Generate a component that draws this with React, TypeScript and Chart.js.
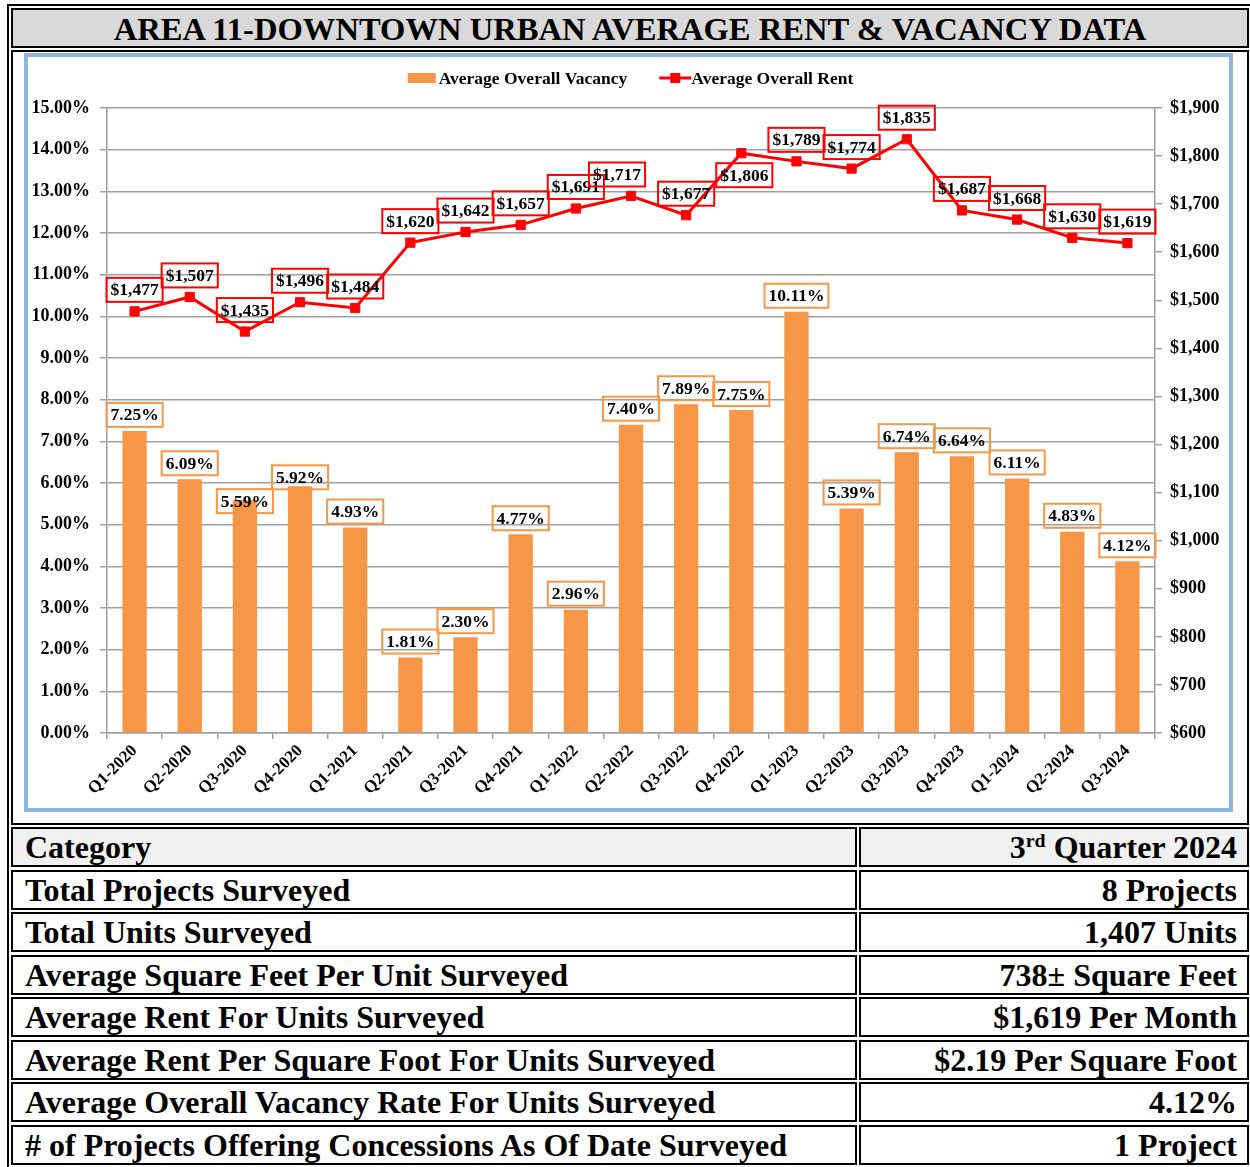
import React, { useEffect, useRef } from 'react';
import { Chart, registerables } from 'chart.js';

Chart.register(...registerables);

const FONT = '"Liberation Serif", "Times New Roman", Times, serif';

const titleText = 'AREA 11-DOWNTOWN URBAN AVERAGE RENT & VACANCY DATA';

const quarters = [
  'Q1-2020', 'Q2-2020', 'Q3-2020', 'Q4-2020',
  'Q1-2021', 'Q2-2021', 'Q3-2021', 'Q4-2021',
  'Q1-2022', 'Q2-2022', 'Q3-2022', 'Q4-2022',
  'Q1-2023', 'Q2-2023', 'Q3-2023', 'Q4-2023',
  'Q1-2024', 'Q2-2024', 'Q3-2024',
];

const vacancyRates = [
  7.25, 6.09, 5.59, 5.92, 4.93, 1.81, 2.30, 4.77, 2.96, 7.40,
  7.89, 7.75, 10.11, 5.39, 6.74, 6.64, 6.11, 4.83, 4.12,
];

const averageRents = [
  1477, 1507, 1435, 1496, 1484, 1620, 1642, 1657, 1691, 1717,
  1677, 1806, 1789, 1774, 1835, 1687, 1668, 1630, 1619,
];

const vacancyAxisRange = [0, 15, 1];
const rentAxisRange = [600, 1900, 100];

const seriesNames = ['Average Overall Vacancy', 'Average Overall Rent'];

const tableHeader = ['Category', '3rd Quarter 2024'];
const tableLabels = [
  'Total Projects Surveyed',
  'Total Units Surveyed',
  'Average Square Feet Per Unit Surveyed',
  'Average Rent For Units Surveyed',
  'Average Rent Per Square Foot For Units Surveyed',
  'Average Overall Vacancy Rate For Units Surveyed',
  '# of Projects Offering Concessions As Of Date Surveyed',
];
const tableValues = [
  '8 Projects',
  '1,407 Units',
  '738\u00B1 Square Feet',
  '$1,619 Per Month',
  '$2.19 Per Square Foot',
  '4.12%',
  '1 Project',
];

const ORANGE = '#f79646';
const RED = '#ff0000';
const GRID = '#a0a0a0';
const LABEL_SIZE = 17.5;

// label placement tweaks (style, not data)
const barLabelShift: Record<number, { dx: number; dy: number }> = {
  2: { dx: 0, dy: 17 },
  3: { dx: 0, dy: 7 },
};
const rentLabelShift: Record<number, { dx: number; dy: number; below?: boolean }> = {
  9: { dx: -14, dy: 0 },
  11: { dx: 3, dy: 0, below: true },
};

const boxLabelPlugin = {
  id: 'boxLabels',
  afterDatasetsDraw(chart: any) {
    const ctx = chart.ctx as CanvasRenderingContext2D;
    ctx.save();
    ctx.font = `bold ${LABEL_SIZE}px ${FONT}`;
    ctx.textAlign = 'center';
    ctx.textBaseline = 'middle';
    chart.data.datasets.forEach((ds: any, di: number) => {
      const meta = chart.getDatasetMeta(di);
      const isBar = meta.type === 'bar';
      meta.data.forEach((el: any, i: number) => {
        const v = ds.data[i] as number;
        const text = isBar ? v.toFixed(2) + '%' : '$' + v.toLocaleString('en-US');
        const w = ctx.measureText(text).width + 8;
        const h = 24;
        const adj: any = (isBar ? barLabelShift[i] : rentLabelShift[i]) || { dx: 0, dy: 0 };
        const cx = el.x + adj.dx;
        let top: number;
        if (isBar) top = el.y - 4 - h + adj.dy;
        else if (adj.below) top = el.y + 10;
        else top = el.y - 9.5 - h + adj.dy;
        ctx.lineWidth = 2;
        ctx.strokeStyle = isBar ? ORANGE : RED;
        ctx.strokeRect(cx - w / 2, top, w, h);
        ctx.fillStyle = '#000';
        ctx.fillText(text, cx, top + h / 2 + 1);
      });
    });
    ctx.restore();
  },
};

const legendPlugin = {
  id: 'customLegend',
  afterDraw(chart: any) {
    const ctx = chart.ctx as CanvasRenderingContext2D;
    ctx.save();
    ctx.font = `bold ${LABEL_SIZE}px ${FONT}`;
    ctx.textBaseline = 'middle';
    ctx.textAlign = 'left';
    const t1 = seriesNames[0];
    const t2 = seriesNames[1];
    const w1 = ctx.measureText(t1).width;
    const w2 = ctx.measureText(t2).width;
    const total = 28 + 3 + w1 + 32 + 32 + w2;
    const y = 21;
    let x = chart.width / 2 + 2 - total / 2;
    ctx.fillStyle = ORANGE;
    ctx.fillRect(x, y - 5, 28, 10);
    x += 31;
    ctx.fillStyle = '#000';
    ctx.fillText(t1, x, y + 1);
    x += w1 + 32;
    ctx.strokeStyle = RED;
    ctx.lineWidth = 3;
    ctx.beginPath();
    ctx.moveTo(x, y);
    ctx.lineTo(x + 32, y);
    ctx.stroke();
    ctx.fillStyle = RED;
    ctx.fillRect(x + 11, y - 5, 10, 10);
    x += 32;
    ctx.fillStyle = '#000';
    ctx.fillText(t2, x, y + 1);
    ctx.restore();
  },
};

function ComboChart() {
  const ref = useRef<HTMLCanvasElement | null>(null);
  useEffect(() => {
    if (!ref.current) return;
    Chart.defaults.font.family = FONT;
    const tickFont = { family: FONT, size: 18, weight: 'bold' as const };
    const chart = new Chart(ref.current, {
      type: 'bar',
      data: {
        labels: quarters,
        datasets: [
          {
            type: 'bar',
            label: seriesNames[0],
            data: vacancyRates,
            yAxisID: 'y',
            backgroundColor: ORANGE,
            borderWidth: 0,
            barPercentage: 0.44,
            categoryPercentage: 1,
            order: 1,
          } as any,
          {
            type: 'line',
            label: seriesNames[1],
            data: averageRents,
            yAxisID: 'y1',
            borderColor: RED,
            backgroundColor: RED,
            borderWidth: 3,
            pointStyle: 'rect',
            pointRadius: 6.5,
            pointBorderWidth: 1,
            pointBackgroundColor: RED,
            pointBorderColor: RED,
            tension: 0,
            order: 0,
          } as any,
        ],
      },
      options: {
        responsive: false,
        animation: false,
        layout: { padding: { top: 51, left: 0, right: 0, bottom: 0 } },
        plugins: {
          legend: { display: false },
          tooltip: { enabled: false },
        },
        scales: {
          x: {
            offset: true,
            grid: {
              offset: true,
              drawOnChartArea: false,
              drawTicks: true,
              tickLength: 6,
              color: GRID,
              lineWidth: 1.5,
            },
            border: { display: true, color: GRID, width: 1.5 },
            ticks: {
              font: { family: FONT, size: 17, weight: 'bold' },
              color: '#000',
              maxRotation: 45,
              minRotation: 45,
              autoSkip: false,
              padding: 2,
            },
            afterFit: (s: any) => {
              s.height = 75;
            },
          },
          y: {
            position: 'left',
            min: vacancyAxisRange[0],
            max: vacancyAxisRange[1],
            ticks: {
              stepSize: vacancyAxisRange[2],
              font: tickFont,
              color: '#000',
              padding: 10,
              callback: (v: any) => Number(v).toFixed(2) + '%',
            },
            grid: { color: GRID, lineWidth: 1.5, tickLength: 7 },
            border: { display: true, color: GRID, width: 1.5 },
            afterFit: (s: any) => {
              s.width = 79;
            },
          },
          y1: {
            position: 'right',
            min: rentAxisRange[0],
            max: rentAxisRange[1],
            ticks: {
              stepSize: rentAxisRange[2],
              font: tickFont,
              color: '#000',
              padding: 8,
              callback: (v: any) => '$' + Number(v).toLocaleString('en-US'),
            },
            grid: { drawOnChartArea: false, color: GRID, lineWidth: 1.5, tickLength: 7 },
            border: { display: true, color: GRID, width: 1.5 },
            afterFit: (s: any) => {
              s.width = 74;
            },
          },
        },
      } as any,
      plugins: [boxLabelPlugin, legendPlugin],
    });
    return () => chart.destroy();
  }, []);
  return (
    <canvas
      ref={ref}
      width={1201}
      height={751}
      style={{ position: 'absolute', left: 28, top: 57, width: 1201, height: 751 }}
    />
  );
}

const cellBase: React.CSSProperties = {
  position: 'absolute',
  boxSizing: 'border-box',
  border: '2px solid #000',
  display: 'flex',
  alignItems: 'center',
  fontWeight: 'bold',
  fontSize: 32,
  whiteSpace: 'nowrap',
  overflow: 'hidden',
  color: '#000',
};

function TableRow({ top, label, value, header }: { top: number; label: React.ReactNode; value: React.ReactNode; header?: boolean }) {
  const bg = header ? '#f0f0f0' : '#fff';
  return (
    <>
      <div style={{ ...cellBase, left: 11, top, width: 846, height: 40, background: bg, paddingLeft: 12 }}>{label}</div>
      <div style={{ ...cellBase, left: 859, top, width: 390, height: 40, background: bg, justifyContent: 'flex-end', paddingRight: 10 }}>{value}</div>
    </>
  );
}

export default function App() {
  useEffect(() => {
    document.body.style.margin = '0';
  }, []);
  const headerValue = (
    <span>
      3<sup style={{ fontSize: '62%', verticalAlign: 'top', lineHeight: 1, position: 'relative', top: 2 }}>rd</sup> Quarter 2024
    </span>
  );
  return (
    <div
      style={{
        position: 'absolute',
        left: 0,
        top: 0,
        width: 1250,
        height: 1167,
        overflow: 'hidden',
        background: '#fff',
        fontFamily: FONT,
      }}
    >
      <div style={{ position: 'absolute', left: 7, top: 4, width: 1260, height: 1200, border: '2px solid #000', boxSizing: 'border-box' }} />
      <div
        style={{
          ...cellBase,
          left: 11,
          top: 8,
          width: 1238,
          height: 40,
          background: '#d9d9d9',
          justifyContent: 'center',
          fontSize: 32.6,
          paddingTop: 2,
        }}
      >
        {titleText}
      </div>
      <div style={{ position: 'absolute', left: 11, top: 50, width: 1238, height: 775, border: '2px solid #000', boxSizing: 'border-box' }} />
      <div style={{ position: 'absolute', left: 24, top: 53, width: 1209, height: 759, border: '4px solid #8eb4e3', boxSizing: 'border-box' }} />
      <ComboChart />
      <TableRow top={827} label={tableHeader[0]} value={headerValue} header />
      {tableLabels.map((l, i) => (
        <TableRow key={l} top={Math.round(827 + (i + 1) * 42.5)} label={l} value={tableValues[i]} />
      ))}
    </div>
  );
}
